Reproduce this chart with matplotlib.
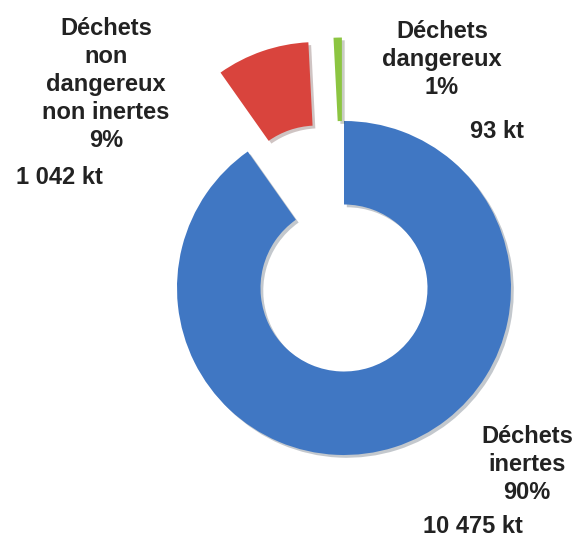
# -*- coding: utf-8 -*-
import matplotlib
matplotlib.use("Agg")
import matplotlib.pyplot as plt
import matplotlib.patheffects as pe

categories = ['Déchets inertes', 'Déchets non dangereux non inertes', 'Déchets dangereux']
values_kt = [10475, 1042, 93]
pct_labels = ['90%', '9%', '1%']
kt_labels = ['10 475 kt', '1 042 kt', '93 kt']
colors = ['#4077C3', '#D9443D', '#8CC541']
explode = [0, 0.5, 0.5]

W, H = 579, 539
cx, cy, R = 344, 288, 167   # pie centre / radius in pixels

plt.rcParams['font.family'] = ['Liberation Sans', 'DejaVu Sans']

fig = plt.figure(figsize=(W / 100, H / 100), dpi=100)
ax = fig.add_axes([0, 0, 1, 1])

wedges, _ = ax.pie(values_kt, colors=colors, explode=explode, startangle=90,
                   counterclock=False, radius=1,
                   wedgeprops=dict(width=0.5, edgecolor='none', linewidth=0))
for w in wedges:
    w.set_path_effects([pe.SimplePatchShadow(offset=(2, -2), alpha=0.25),
                        pe.Normal()])

ax.set_xlim(-cx / R, (W - cx) / R)
ax.set_ylim(-(H - cy) / R, cy / R)
ax.set_aspect('auto')
ax.axis('off')


def fpos(x, y):
    return x / W, 1 - y / H


txt = dict(fontsize=17, fontweight='bold', color='#222222', transform=fig.transFigure)

# red slice label
ax.text(*fpos(106, 17), 'Déchets\nnon\ndangereux\nnon inertes\n' + pct_labels[1],
        ha='center', va='top', multialignment='center', linespacing=1.28, **txt)
ax.text(*fpos(16, 184), kt_labels[1], ha='left', va='baseline', **txt)

# green slice label
ax.text(*fpos(442, 20), 'Déchets\ndangereux\n' + pct_labels[2],
        ha='center', va='top', multialignment='center', linespacing=1.28, **txt)
ax.text(*fpos(470, 138), kt_labels[2], ha='left', va='baseline', **txt)

# blue slice label
ax.text(*fpos(527, 425), 'Déchets\ninertes\n' + pct_labels[0],
        ha='center', va='top', multialignment='center', linespacing=1.28, **txt)
ax.text(*fpos(423, 533), kt_labels[0], ha='left', va='baseline', **txt)

fig.savefig('out.png', dpi=100, facecolor='white')
